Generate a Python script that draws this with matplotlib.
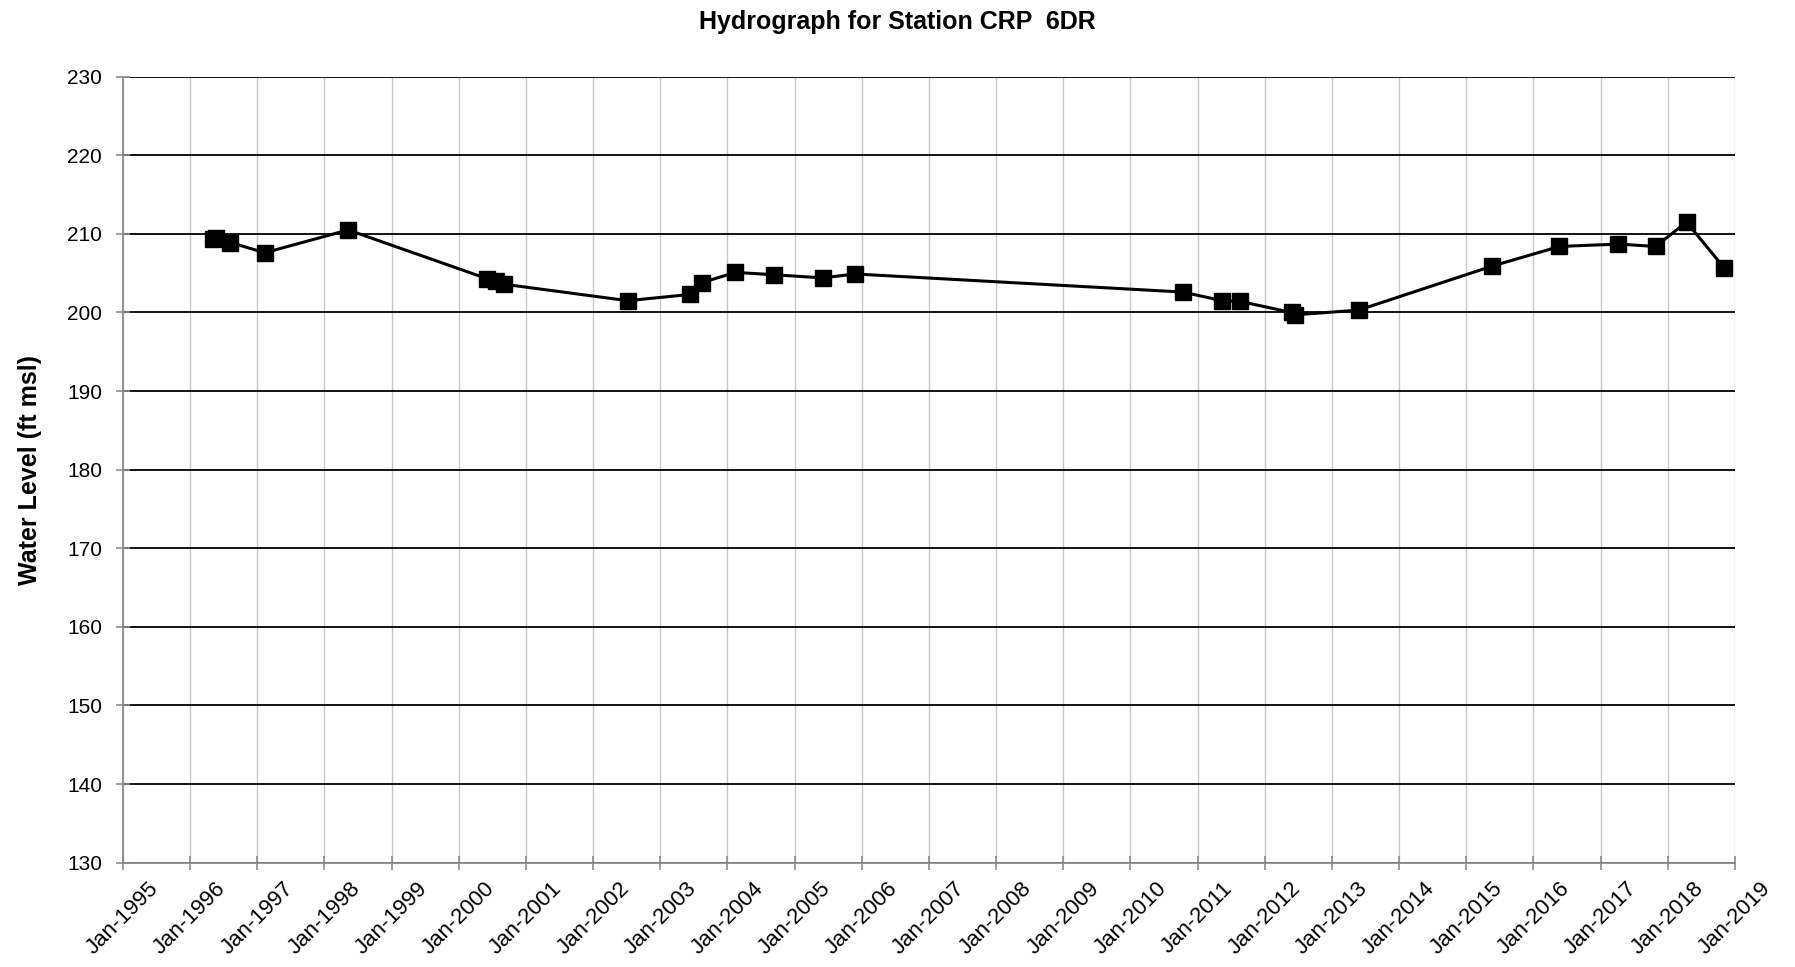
import matplotlib
matplotlib.use("Agg")
import matplotlib.pyplot as plt
import matplotlib.dates as mdates
import pandas as pd

# sample dates and measured water levels (ft msl)
dates = ["1996-05-05", "1996-05-20", "1996-08-07", "1997-02-10", "1998-05-10",
         "2000-06-03", "2000-07-20", "2000-09-02", "2002-07-08", "2003-06-14",
         "2003-08-15", "2004-02-14", "2004-09-10", "2005-06-03", "2005-11-25",
         "2010-10-12", "2011-05-15", "2011-08-22", "2012-05-26", "2012-06-14",
         "2013-05-26", "2015-05-22", "2016-05-22", "2017-04-08", "2017-10-27",
         "2018-04-13", "2018-11-03"]
levels = [209.4, 209.5, 208.9, 207.6, 210.5,
          204.3, 204.0, 203.6, 201.5, 202.3,
          203.8, 205.1, 204.8, 204.4, 204.9,
          202.6, 201.5, 201.4, 200.0, 199.7,
          200.3, 205.9, 208.4, 208.7, 208.4,
          211.5, 205.7]
years = list(range(1995, 2020))
y_ticks = list(range(130, 231, 10))

plt.rcParams['font.family'] = ['Liberation Sans', 'DejaVu Sans']

t = pd.to_datetime(dates)

fig = plt.figure(figsize=(17.95, 9.67), dpi=100)
ax = fig.add_axes([0.0685, 0.1079, 0.898, 0.8128])

ax.plot(t, levels, color='black', lw=2.2, marker='s', markersize=12, zorder=3)

ax.set_xlim(pd.Timestamp("1995-01-01"), pd.Timestamp("2019-01-01"))
ax.set_ylim(130, 230)
ax.set_yticks(y_ticks)
ax.set_xticks([pd.Timestamp(f"{y}-01-01") for y in years])
ax.xaxis.set_major_formatter(mdates.DateFormatter("%b-%Y"))

ax.grid(axis='y', color='black', lw=1.3)
ax.grid(axis='x', color='#c8c8c8', lw=1.0)
ax.set_axisbelow(True)

for s in ax.spines.values():
    s.set_color('#8c8c8c')
    s.set_linewidth(1.3)
ax.spines['top'].set_visible(False)
ax.spines['right'].set_visible(False)

ax.tick_params(axis='both', direction='inout', length=10, width=1.2,
               color='#8c8c8c')
ax.tick_params(axis='y', pad=10, labelsize=15)
ax.tick_params(axis='x', pad=6, labelsize=16)
plt.setp(ax.get_xticklabels(), rotation=45, ha='center')

ax.set_ylabel("Water Level (ft msl)", fontsize=18, fontweight='bold', labelpad=18)
fig.suptitle("Hydrograph for Station CRP  6DR", fontsize=18, fontweight='bold',
             y=0.99)

fig.savefig("out.png", dpi=100)
